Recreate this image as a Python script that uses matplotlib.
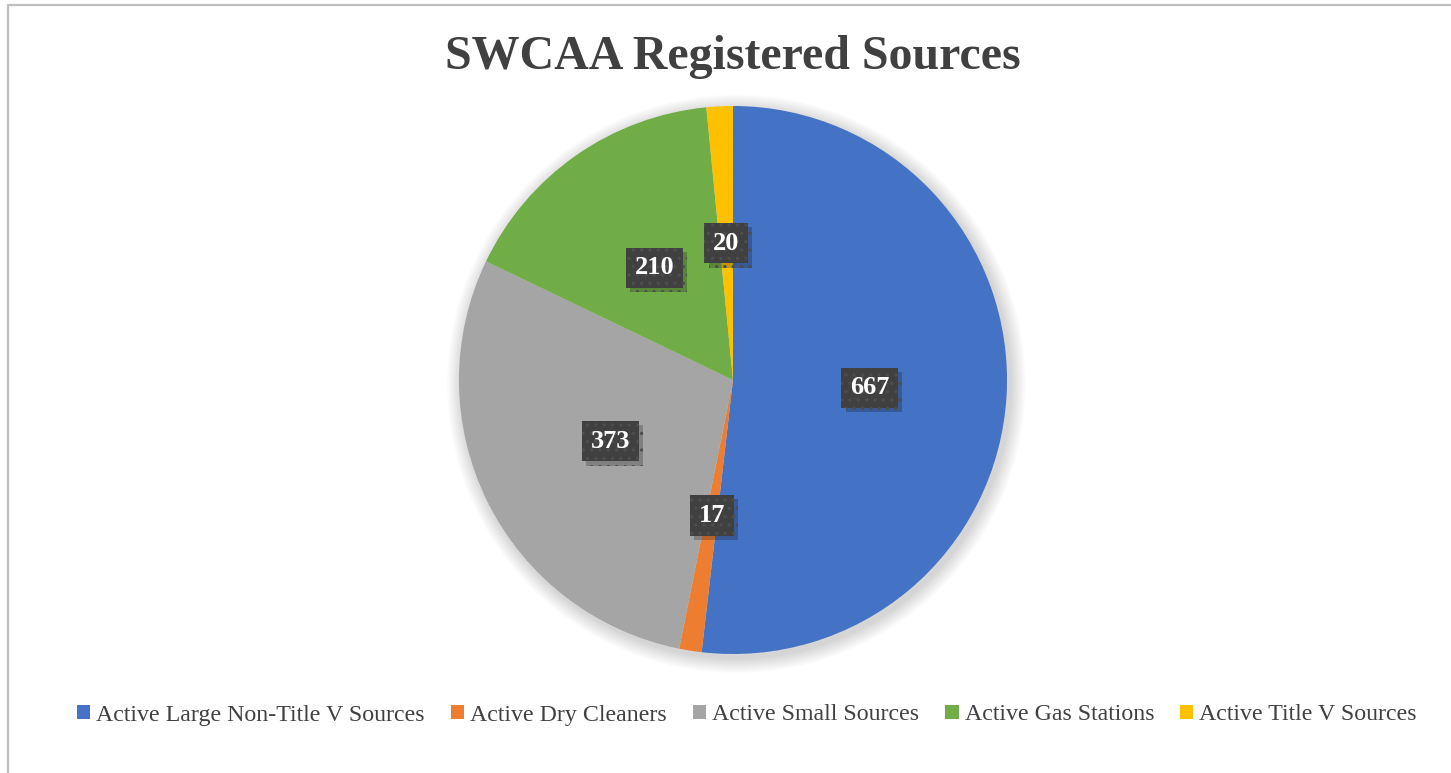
import matplotlib.pyplot as plt
from matplotlib.patches import Circle, Rectangle
import matplotlib.patheffects as pe

# data
categories = ['Active Large Non-Title V Sources', 'Active Dry Cleaners',
              'Active Small Sources', 'Active Gas Stations', 'Active Title V Sources']
counts = [667, 17, 373, 210, 20]
colors = ['#4472C4', '#ED7D31', '#A5A5A5', '#70AD47', '#FFC000']

plt.rcParams['font.family'] = ['Liberation Serif', 'DejaVu Serif']
plt.rcParams['hatch.linewidth'] = 1.2

fig = plt.figure(figsize=(14.51, 7.73), dpi=100)

# chart frame (light gray border, cut off at right/bottom like the screenshot)
fig.patches.append(Rectangle((8 / 1451, -0.05), 1.1, 1 - 5 / 773 + 0.05,
                             transform=fig.transFigure, fill=False,
                             edgecolor='#BFBFBF', linewidth=1.6))

# pie axes: center (733, 380) px, radius 274 px
cx, cy, r = 733, 380, 274
ax = fig.add_axes([(cx - r) / 1451, 1 - (cy + r) / 773, 2 * r / 1451, 2 * r / 773])

# soft shadow
for i in range(14):
    ax.add_patch(Circle((0.012, -0.014), 1.0 + 0.004 * (14 - i), color='black',
                        alpha=0.012, lw=0, zorder=0, clip_on=False))

wedges, texts = ax.pie(counts, colors=colors, startangle=90, counterclock=False,
                       labels=[str(c) for c in counts], labeldistance=0.5,
                       wedgeprops=dict(linewidth=0))
for w in wedges:
    w.set_clip_on(False)
for t in texts:
    t.set_color('white')
    t.set_fontsize(19)
    t.set_fontweight('bold')
    t.set_ha('center')
    t.set_va('center')
    t.set_bbox(dict(boxstyle='square,pad=0.33', facecolor='#404040',
                    edgecolor='#4d4d4d', linewidth=0, hatch='..'))
    t.get_bbox_patch().set_path_effects([pe.SimplePatchShadow(offset=(3, -3), alpha=0.25),
                                         pe.Normal()])
ax.set_xlim(-1, 1)
ax.set_ylim(-1, 1)
ax.set_aspect('equal')
ax.axis('off')

fig.text(733 / 1451, 1 - 57 / 773, 'SWCAA Registered Sources', ha='center', va='center',
         fontsize=34.5, fontweight='bold', color='#404040')

handles = [Rectangle((0, 0), 1, 1, facecolor=c, edgecolor='none') for c in colors]
fig.legend(handles, categories, loc='center', bbox_to_anchor=(747 / 1451, 1 - 715 / 773),
           ncol=5, frameon=False, fontsize=17.2, handlelength=0.55, handleheight=0.55,
           handletextpad=0.25, columnspacing=1.1, labelcolor='#404040')

fig.savefig('out.png', dpi=100)
